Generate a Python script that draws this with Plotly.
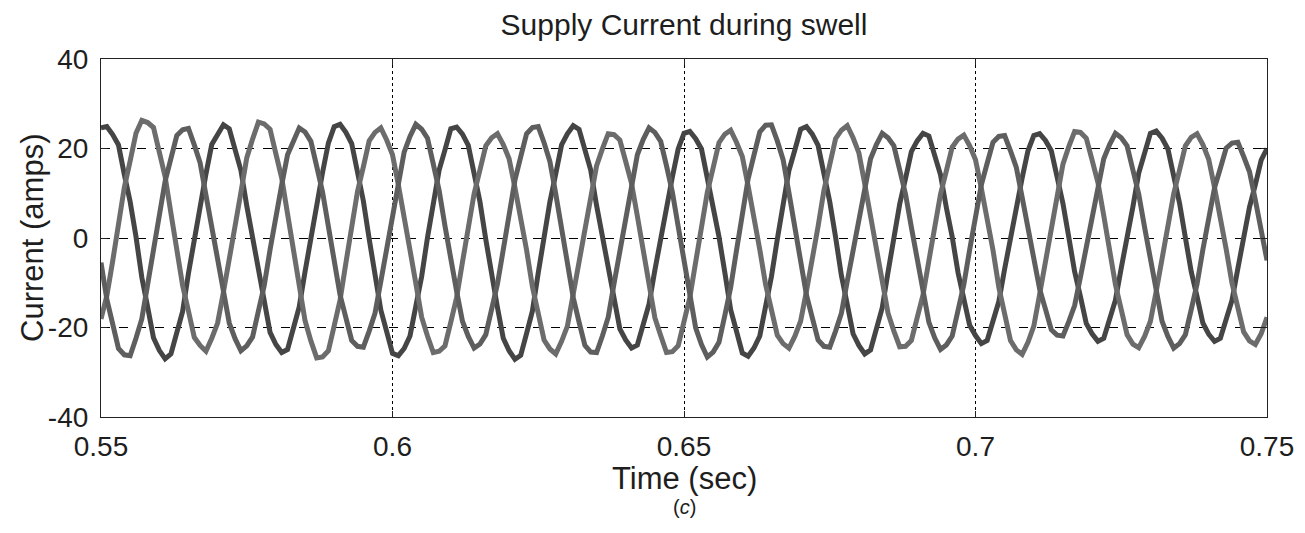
import plotly.graph_objects as go

# Sampling of the recorded waveforms (read every 1 ms from the picture)
T_START = 0.55
T_STEP = 0.001

# Phase a (darkest trace), amps
phase_a = [
    24.6, 24.9, 23.1, 20.8, 14.2, 8.1, 0.3, -8.8, -15.4, -22.3, -25.1, -27.0, -25.9, -21.2, -16.4, -7.9, -0.4, 8.2, 14.3, 20.9,
    23.2, 25.3, 24.4, 19.6, 15.1, 7.2, 0.2, -8.3, -14.6, -21.1, -23.8, -25.6, -24.9, -20.1, -15.4, -7.5, 0.3, 8.4, 14.6, 21.2,
    24.9, 25.4, 23.6, 21.1, 14.5, 8.3, -0.2, -7.8, -16.1, -20.9, -25.8, -26.3, -24.7, -21.9, -15.1, -8.6, 0.1, 7.3, 15.2, 19.7,
    24.4, 24.8, 23.2, 20.7, 14.2, 8.1, -0.3, -8.7, -15.5, -22.4, -25.2, -27.1, -26.2, -21.3, -16.3, -7.8, 0.2, 8.1, 14.3, 20.8,
    23.3, 25.1, 24.3, 19.7, 15.2, 7.3, 0.4, -8.0, -14.0, -20.3, -22.8, -24.6, -23.9, -19.3, -14.8, -7.2, -0.2, 7.8, 13.6, 19.9,
    23.4, 23.8, 22.2, 19.9, 13.6, 7.8, 0.3, -7.7, -16.0, -20.8, -25.7, -26.4, -24.6, -21.9, -15.2, -8.6, -0.3, 7.3, 15.1, 19.6,
    24.3, 24.9, 23.2, 20.7, 14.3, 8.1, 0.2, -8.4, -14.8, -21.4, -24.0, -25.9, -25.0, -20.4, -15.6, -7.6, -0.1, 7.6, 13.3, 19.3,
    21.7, 23.4, 22.8, 18.3, 14.1, 6.8, 0.3, -7.7, -13.4, -19.5, -21.8, -23.6, -22.9, -18.6, -14.2, -6.9, -0.2, 7.7, 13.4, 19.5,
    22.9, 23.3, 21.8, 19.5, 13.4, 7.7, 0.2, -7.5, -13.1, -19.1, -21.4, -23.1, -22.4, -18.2, -13.9, -6.7, -0.3, 7.0, 14.5, 18.9,
    23.4, 23.9, 22.3, 19.9, 13.7, 7.8, 0.1, -7.5, -13.1, -19.0, -21.5, -23.1, -22.4, -18.1, -13.9, -6.8, 0.2, 6.9, 11.9, 17.4,
    20.0,
]

# Phase b (lighter grey trace), amps
phase_b = [
    -18.1, -12.9, -5.2, 2.8, 11.3, 17.2, 23.4, 26.3, 25.8, 24.7, 19.2, 13.7, 5.5, -2.6, -10.6, -16.3, -22.2, -24.0, -25.3, -22.4,
    -19.0, -12.1, -5.2, 2.7, 10.2, 17.9, 22.1, 25.9, 25.5, 24.3, 18.8, 13.4, 5.4, -2.8, -10.6, -18.5, -23.0, -26.8, -26.6, -25.2,
    -19.6, -13.9, -5.6, 2.6, 10.4, 15.9, 21.7, 23.6, 24.6, 21.9, 18.6, 11.9, 5.1, -2.7, -10.1, -17.7, -21.9, -25.6, -25.3, -24.1,
    -18.8, -13.3, -5.4, 2.4, 9.9, 15.2, 20.6, 22.4, 23.3, 20.9, 17.7, 11.3, 4.8, -2.7, -10.9, -16.9, -22.8, -24.8, -25.9, -23.1,
    -19.7, -12.5, -5.4, 2.5, 9.2, 16.1, 19.9, 23.3, 23.1, 21.9, 17.1, 12.2, 4.9, -2.7, -10.1, -17.8, -21.8, -25.6, -25.4, -24.1,
    -18.7, -13.3, -5.4, 2.5, 10.2, 15.7, 21.3, 23.2, 24.1, 21.4, 18.2, 11.6, 5.0, -2.6, -10.4, -16.0, -21.7, -23.6, -24.6, -22.0,
    -18.6, -11.9, -5.1, 2.6, 10.6, 16.3, 22.2, 24.1, 25.1, 22.4, 19.0, 12.1, 5.2, -2.6, -9.6, -16.8, -20.8, -24.3, -24.2, -22.9,
    -17.8, -12.7, -5.1, 2.4, 9.8, 15.0, 20.3, 22.1, 23.0, 20.6, 17.5, 11.1, 4.8, -2.7, -11.0, -17.0, -22.9, -25.0, -26.0, -23.3,
    -19.7, -12.6, -5.4, 2.5, 9.4, 16.5, 20.4, 23.8, 23.6, 22.3, 17.4, 12.4, 5.0, -2.6, -10.4, -16.0, -21.6, -23.7, -24.5, -22.0,
    -18.6, -11.9, -5.1, 2.4, 9.9, 15.2, 20.6, 22.5, 23.3, 20.9, 17.6, 11.3, 4.8, -2.5, -10.1, -15.5, -21.0, -23.0, -23.8, -21.4,
    -17.7,
]

# Phase c (medium grey trace), amps
phase_c = [
    -5.5, -13.7, -19.2, -24.7, -26.1, -26.3, -22.4, -18.1, -10.4, -2.8, 5.1, 12.7, 17.8, 22.9, 24.2, 24.5, 20.8, 16.8, 9.6, 2.6,
    -5.2, -12.1, -19.0, -22.5, -25.2, -24.1, -22.1, -16.3, -10.6, -2.6, 5.1, 11.9, 18.6, 21.9, 24.6, 23.7, 21.6, 16.0, 10.3, 2.6,
    -5.1, -12.7, -17.8, -22.9, -24.2, -24.4, -20.8, -16.8, -9.7, -2.6, 5.3, 12.3, 19.2, 22.7, 25.4, 24.3, 22.3, 16.5, 10.6, 2.7,
    -5.1, -11.9, -18.6, -22.0, -24.6, -23.7, -21.6, -16.0, -10.3, -2.6, 5.2, 12.9, 18.2, 23.3, 24.7, 24.9, 21.3, 17.1, 9.9, 2.6,
    -5.4, -13.3, -18.8, -24.0, -25.5, -25.6, -21.9, -17.7, -10.2, -2.7, 5.1, 11.9, 18.6, 22.0, 24.6, 23.6, 21.6, 16.1, 10.3, 2.6,
    -5.5, -12.9, -20.1, -23.8, -26.6, -25.5, -23.3, -17.3, -11.1, -2.8, 5.3, 13.2, 18.5, 23.7, 25.2, 25.3, 21.7, 17.5, 10.1, 2.7,
    -5.1, -12.7, -17.8, -22.8, -24.2, -24.4, -20.8, -16.8, -9.7, -2.6, 4.8, 11.3, 17.7, 20.9, 23.4, 22.4, 20.6, 15.2, 9.8, 2.4,
    -5.2, -12.0, -18.8, -22.3, -24.9, -23.9, -21.9, -16.2, -10.4, -2.6, 4.8, 11.9, 16.7, 21.4, 22.7, 22.9, 19.5, 15.8, 9.1, 2.4,
    -4.6, -11.4, -15.9, -20.5, -21.7, -21.9, -18.7, -15.1, -8.7, -2.3, 4.8, 11.3, 17.7, 20.9, 23.4, 22.4, 20.6, 15.2, 9.8, 2.4,
    -5.1, -11.9, -18.6, -22.0, -24.6, -23.6, -21.6, -16.0, -10.3, -2.6, 4.5, 11.2, 15.6, 20.1, 21.2, 21.4, 18.2, 14.8, 8.5, 2.3,
    -5.0,
]

x_tick_vals = [0.55, 0.6, 0.65, 0.7, 0.75]
x_tick_text = ["0.55", "0.6", "0.65", "0.7", "0.75"]
y_tick_vals = [-40, -20, 0, 20, 40]
y_tick_text = ["-40", "-20", "0", "20", "40"]

time = [round(T_START + T_STEP * i, 4) for i in range(len(phase_a))]

FONT = "Liberation Sans, Arial, sans-serif"
TXT = "#1e1e1e"

fig = go.Figure()
for vals, color in [(phase_a, "#454545"), (phase_b, "#6c6c6c"), (phase_c, "#5e5e5e")]:
    fig.add_trace(go.Scatter(x=time, y=vals, mode="lines",
                             line=dict(color=color, width=5), showlegend=False,
                             hoverinfo="skip"))

axis_common = dict(showline=True, linecolor="#222222", linewidth=1.2, mirror="ticks",
                   ticks="inside", ticklen=6, tickcolor="#222222",
                   showgrid=True, gridcolor="#000000", gridwidth=1,
                   zeroline=False, automargin=False,
                   tickfont=dict(family=FONT, size=28, color=TXT))

fig.update_xaxes(range=[0.55, 0.75], tickvals=x_tick_vals, ticktext=x_tick_text,
                 griddash="dot", ticklabelstandoff=4, **axis_common)
fig.update_yaxes(range=[-40, 40], tickvals=y_tick_vals, ticktext=y_tick_text,
                 griddash="dash", ticklabelstandoff=6, **axis_common)

# page body has an 8 px margin; figure sized so the plot box lands where the reference has it
fig.update_layout(
    width=1289, height=517,
    margin=dict(l=93, r=30, t=51, b=108),
    paper_bgcolor="white", plot_bgcolor="white",
    title=dict(text="Supply Current during swell", x=(684 - 8) / 1289, xanchor="center",
               y=1 - 16 / 517, yanchor="middle", yref="container",
               font=dict(family=FONT, size=30, color=TXT)),
    annotations=[
        dict(text="Time (sec)", x=0.5, y=-0.1704, xref="paper", yref="paper",
             showarrow=False, xanchor="center", yanchor="middle",
             font=dict(family=FONT, size=31, color=TXT)),
        dict(text="Current (amps)", x=-0.0592, y=0.5, xref="paper", yref="paper",
             showarrow=False, xanchor="center", yanchor="middle", textangle=-90,
             font=dict(family=FONT, size=31, color=TXT)),
        dict(text="(<i>c</i>)", x=0.5, y=-0.2514, xref="paper", yref="paper",
             showarrow=False, xanchor="center", yanchor="middle",
             font=dict(family=FONT, size=20, color=TXT)),
    ],
)

fig.write_html("out.html")
